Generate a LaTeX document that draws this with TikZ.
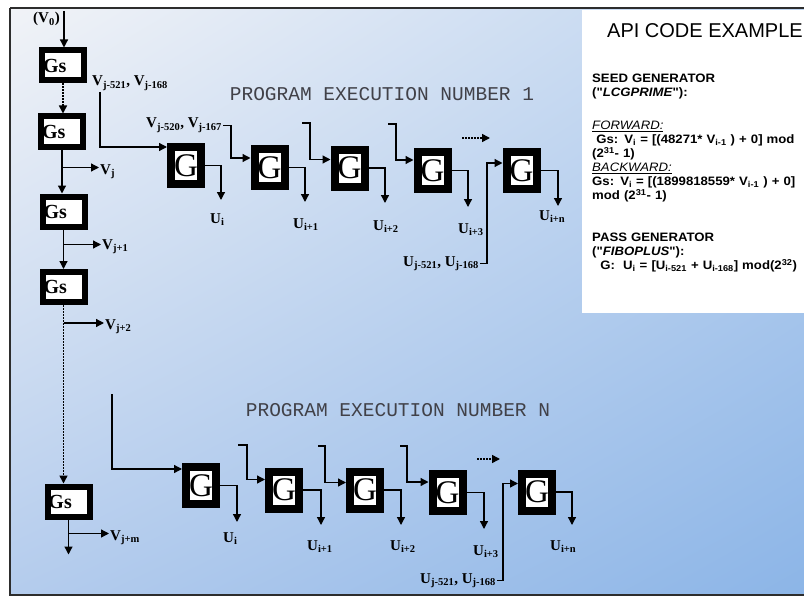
\documentclass[tikz,border=0pt]{standalone}
\usepackage{fontspec}
\setmainfont{Liberation Serif}
\setmonofont{Liberation Mono}
\newfontfamily\headfont{Liberation Sans}
\newfontfamily\panelfont[FakeStretch=1.08]{Liberation Sans}
\usetikzlibrary{arrows.meta,positioning,calc,shadings}
\definecolor{framegray}{RGB}{45,45,45}
\definecolor{titlegray}{RGB}{65,65,72}
\definecolor{bgtopleft}{RGB}{241,243,247}
\definecolor{bgtopright}{RGB}{190,212,240}
\definecolor{bgbotleft}{RGB}{180,204,237}
\definecolor{bgbotright}{RGB}{140,181,231}
\tikzset{
  >={Triangle[length=8pt,width=8pt]},
  flow/.style={->, line width=1.3pt, draw=black},
  dotflow/.style={->, line width=1.5pt, draw=black, dash pattern=on 1.5pt off 1.5pt},
  framebar/.style={line width=1.2pt, draw=framegray},
  gsbox/.style={draw=black, line width=6pt, fill=white, minimum height=30pt,
    text width=40pt, inner xsep=1pt, inner ysep=0pt, align=left,
    font=\fontsize{20}{20}\selectfont\bfseries},
  gbox/.style={draw=black, line width=8pt, fill=white, minimum width=30pt,
    minimum height=37pt, inner sep=0pt, font=\fontsize{33}{33}\selectfont},
  vlab/.style={inner sep=1pt, anchor=base west, font=\fontsize{15}{16}\selectfont\bfseries},
  exectitle/.style={inner sep=0pt, text=titlegray, font=\ttfamily\fontsize{19.5}{20}\selectfont},
  apihead/.style={inner sep=0pt, font=\headfont\fontsize{20}{20}\selectfont},
  apibody/.style={inner sep=0pt, anchor=north west, align=left, text width=212pt,
    font=\panelfont\bfseries\fontsize{12.2}{14}\selectfont}
}

\begin{document}
\begin{tikzpicture}[x=1pt, y=-1pt]
  \useasboundingbox (0,0) rectangle (804,602);

  % Background and frame.
  \shade[upper left=bgtopleft, upper right=bgtopright, lower left=bgbotleft,
    lower right=bgbotright] (10,8) rectangle (804,595);
  \draw[framebar] (10,8) -- (804,8);
  \draw[framebar] (10,8) -- (10,595) -- (804,595);

  % Seed generator chain.
  \node[gsbox] (gs1) at (63,65.5) {Gs};
  \node[gsbox] (gs2) at (62,131.5) {Gs};
  \node[gsbox] (gs3) at (63.5,211.5) {Gs};
  \node[gsbox] (gs4) at (63.5,287) {Gs};
  \node[gsbox] (gs5) at (68.5,501.5) {Gs};

  \node[vlab] (vzero) at (32,23) {(V\textsubscript{0})};
  \node[vlab] (vj) at (99,174) {V\textsubscript{j}};
  \node[vlab] (vj1) at (101,249) {V\textsubscript{j+1}};
  \node[vlab] (vj2) at (104,329) {V\textsubscript{j+2}};
  \node[vlab] (vjm) at (109,540) {V\textsubscript{j+m}};

  \coordinate (vtop) at (64,11);
  \coordinate (bj) at ($(gs2.south)+(0,18)$);
  \coordinate (bj1) at ($(gs3.south)+(0,15)$);
  \coordinate (bj2) at ($(gs4.south)+(0,18)$);
  \coordinate (bjm) at ($(gs5.south)+(0,14)$);
  \coordinate (gsend) at ($(gs5.south)+(0,35)$);

  \draw[flow] (vtop) -- (vtop |- gs1.north);
  \draw[dotflow] (gs1.south) -- (gs1.south |- gs2.north);
  \draw[flow] (gs2.south) -- (gs2.south |- gs3.north);
  \draw[flow] (gs3.south) -- (gs3.south |- gs4.north);
  \draw[dotflow] (gs4.south) -- (gs4.south |- gs5.north);
  \draw[flow] (gs5.south) -- (gsend);

  \draw[flow] (bj) -- (bj -| vj.west);
  \draw[flow] (bj1) -- (bj1 -| vj1.west);
  \draw[flow] (bj2) -- (bj2 -| vj2.west);
  \draw[flow] (bjm) -- (bjm -| vjm.west);

  % Program execution number 1.
  \node[exectitle] (runone) at (382,94) {PROGRAM EXECUTION NUMBER 1};
  \node[gbox] (ga1) at (186,165.5) {G};
  \node[gbox] (ga2) at (269.5,167.5) {G};
  \node[gbox] (ga3) at (349.5,168) {G};
  \node[gbox] (ga4) at (432.5,170.5) {G};
  \node[gbox] (ga5) at (521.5,170.5) {G};

  \node[vlab] (vfar) at (91,86) {V\textsubscript{j-521}, V\textsubscript{j-168}};
  \node[vlab] (vnear) at (145,128) {V\textsubscript{j-520}, V\textsubscript{j-167}};
  \node[vlab] (uina) at (402,266) {U\textsubscript{j-521}, U\textsubscript{j-168}};

  \node[vlab] (ua1) at (209,223) {U\textsubscript{i}};
  \node[vlab] (ua2) at (292,228) {U\textsubscript{i+1}};
  \node[vlab] (ua3) at (372,230) {U\textsubscript{i+2}};
  \node[vlab] (ua4) at (457,233) {U\textsubscript{i+3}};
  \node[vlab] (ua5) at (538,220) {U\textsubscript{i+n}};

  \coordinate (ina1) at ($(ga1.north west)+(0,4)$);
  \coordinate (ina2) at ($(ga2.north west)+(0,13)$);
  \coordinate (ina3) at ($(ga3.north west)+(0,14)$);
  \coordinate (ina4) at ($(ga4.north west)+(0,12)$);
  \coordinate (ina5) at ($(ga5.north west)+(0,15)$);
  \coordinate (hka3) at (302,123);
  \coordinate (hka4) at (388,124);
  \coordinate (dotsa) at (462,138);

  \coordinate (outa1) at (221,200);
  \coordinate (outa2) at (305,202);
  \coordinate (outa3) at (385,203);
  \coordinate (outa4) at (468,207);
  \coordinate (outa5) at (558,206);

  \draw[flow] (vfar.south west) ++(9,0) |- (ina1);
  \draw[flow] (vnear.east) -- ++(8,0) |- (ina2);
  \draw[flow] (hka3) -- ++(8,0) |- (ina3);
  \draw[flow] (hka4) -- ++(8,0) |- (ina4);
  \draw[flow] (uina.east) -- ++(7,0) |- (ina5);
  \draw[dotflow] (dotsa) -- ++(28,0);

  \draw[flow] (ga1.east) -| (outa1);
  \draw[flow] (ga2.east) -| (outa2);
  \draw[flow] (ga3.east) -| (outa3);
  \draw[flow] (ga4.east) -| (outa4);
  \draw[flow] (ga5.east) -| (outa5);

  % Program execution number N.
  \node[exectitle] (runlast) at (398,410) {PROGRAM EXECUTION NUMBER N};
  \node[gbox] (gn1) at (201,485.5) {G};
  \node[gbox] (gn2) at (284,490) {G};
  \node[gbox] (gn3) at (365,490) {G};
  \node[gbox] (gn4) at (447.5,492.5) {G};
  \node[gbox] (gn5) at (537,492) {G};

  \node[vlab] (uinn) at (419,583) {U\textsubscript{j-521}, U\textsubscript{j-168}};

  \node[vlab] (un1) at (222,542) {U\textsubscript{i}};
  \node[vlab] (un2) at (306,550) {U\textsubscript{i+1}};
  \node[vlab] (un3) at (389,550) {U\textsubscript{i+2}};
  \node[vlab] (un4) at (472,555) {U\textsubscript{i+3}};
  \node[vlab] (un5) at (549,550) {U\textsubscript{i+n}};

  \coordinate (inn1) at ($(gn1.north west)+(0,6)$);
  \coordinate (inn2) at ($(gn2.north west)+(0,12)$);
  \coordinate (inn3) at ($(gn3.north west)+(0,15)$);
  \coordinate (inn4) at ($(gn4.north west)+(0,12)$);
  \coordinate (inn5) at ($(gn5.north west)+(0,14)$);
  \coordinate (splitn) at (112,394);
  \coordinate (hkn2) at (238,445);
  \coordinate (hkn3) at (318,446);
  \coordinate (hkn4) at (400,446);
  \coordinate (dotsn) at (477,459);

  \coordinate (outn1) at (237,522);
  \coordinate (outn2) at (321,525);
  \coordinate (outn3) at (401,525);
  \coordinate (outn4) at (484,529);
  \coordinate (outn5) at (572,525);

  \draw[flow] (splitn) |- (inn1);
  \draw[flow] (hkn2) -- ++(9,0) |- (inn2);
  \draw[flow] (hkn3) -- ++(7,0) |- (inn3);
  \draw[flow] (hkn4) -- ++(7,0) |- (inn4);
  \draw[flow] (uinn.east) -- ++(6,0) |- (inn5);
  \draw[dotflow] (dotsn) -- ++(23,0);

  \draw[flow] (gn1.east) -| (outn1);
  \draw[flow] (gn2.east) -| (outn2);
  \draw[flow] (gn3.east) -| (outn3);
  \draw[flow] (gn4.east) -| (outn4);
  \draw[flow] (gn5.east) -| (outn5);

  % API code panel.
  \fill[white] (582,10) rectangle (804,313);
  \node[apihead] (apititle) at (705,31) {API CODE EXAMPLE};
  \node[apibody] (apitext) at (592,74) {%
    SEED GENERATOR\\
    ("\textit{LCGPRIME}"):\\[19pt]
    {\mdseries\underline{\textit{FORWARD:}}}\\
    \ Gs: V\textsubscript{i} = [(48271* V\textsubscript{i-1} ) + 0] mod\\
    (2\textsuperscript{31}- 1)\\
    {\mdseries\underline{\textit{BACKWARD:}}}\\
    Gs: V\textsubscript{i} = [(1899818559* V\textsubscript{i-1} ) + 0]\\
    mod (2\textsuperscript{31}- 1)\\[28pt]
    PASS GENERATOR\\
    ("\textit{FIBOPLUS}"):\\
    \ \ G:\ \ U\textsubscript{i} = [U\textsubscript{i-521} + U\textsubscript{i-168}] mod(2\textsuperscript{32})};
\end{tikzpicture}
\end{document}
